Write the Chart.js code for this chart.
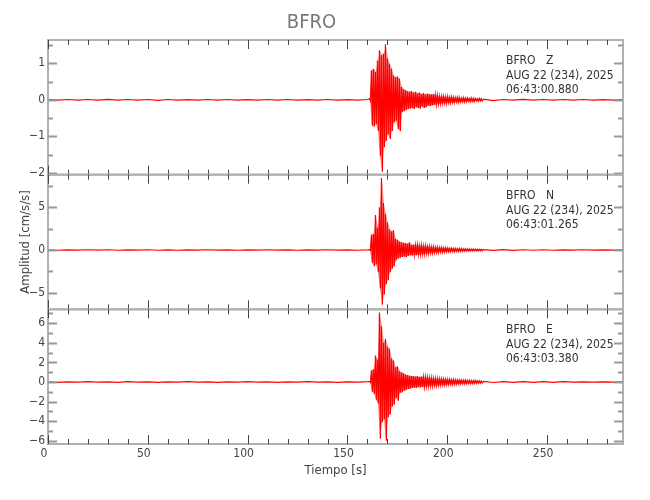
<!DOCTYPE html>
<html>
<head>
<meta charset="utf-8">
<script src="https://cdn.jsdelivr.net/npm/chart.js@4.4.1/dist/chart.umd.min.js"></script>
<style>
  html, body { margin: 0; padding: 0; background: #ffffff; }
  #wrap { width: 650px; height: 500px; }
</style>
</head>
<body>
<div id="wrap"><canvas id="c" width="650" height="500"></canvas></div>
<script>
// ---------------- data ----------------
const TITLE = 'BFRO';
const X_TITLE = 'Tiempo [s]';
const Y_TITLE = 'Amplitud [cm/s/s]';

// sampling of the traces (seconds)
const PRE_START = 0, PRE_STEP = 5;      // quiet record before the event
const BURST_START = 161, BURST_STEP = 1; // strong motion (max / min per step)
const POST_START = 218, POST_STEP = 5;  // quiet record after the event

// channel Z
const zPre = [0.005,-0.01,0.01,-0.005,0.01,-0.01,0.015,-0.01,0.01,-0.005,
              0.01,-0.015,0.01,-0.01,0.005,-0.01,0.01,-0.005,0.01,-0.01,
              0.005,-0.01,0.01,-0.005,0.01,-0.01,0.005,-0.01,0.01,-0.01,
              0.005,-0.01,0.01];
const zUp  = [0.03,0.81,0.85,0.76,1.08,1.36,1.22,1.27,1.52,1.13,
              0.99,0.85,0.67,0.62,0.64,0.58,0.35,0.30,0.26,0.24,
              0.22,0.24,0.20,0.22,0.18,0.20,0.16,0.19,0.15,0.17,
              0.16,0.15,0.16,0.13,0.12,0.10,0.09,0.10,0.08,0.09,
              0.07,0.08,0.07,0.06,0.07,0.06,0.05,0.06,0.05,0.05,
              0.04,0.05,0.04,0.04,0.03,0.04,0.03];
const zLo  = [-0.03,-0.71,-0.73,-0.66,-0.85,-1.53,-1.97,-1.30,-1.12,-0.94,
              -1.07,-0.85,-0.62,-0.57,-0.80,-0.85,-0.34,-0.31,-0.28,-0.25,
              -0.24,-0.22,-0.25,-0.20,-0.22,-0.24,-0.18,-0.22,-0.20,-0.16,
              -0.17,-0.15,-0.14,-0.13,-0.12,-0.11,-0.10,-0.09,-0.10,-0.08,
              -0.09,-0.07,-0.08,-0.06,-0.07,-0.06,-0.05,-0.06,-0.05,-0.04,
              -0.05,-0.04,-0.05,-0.03,-0.04,-0.03,-0.03];
const zPost = [0.02,-0.02,0.01,-0.01,0.015,-0.01,0.01,-0.01,0.01,-0.005,0.01,-0.01,0.005,-0.01,0.005];

// channel N
const nPre = [0.02,-0.03,0.02,-0.02,0.03,-0.02,0.03,-0.03,0.02,-0.02,
              0.03,-0.03,0.02,-0.03,0.02,-0.02,0.03,-0.02,0.02,-0.03,
              0.02,-0.02,0.03,-0.02,0.02,-0.03,0.02,-0.02,0.03,-0.02,
              0.02,-0.03,0.02];
const nUp  = [0.05,1.8,1.9,4.1,2.6,5.0,8.4,5.5,4.2,3.2,
              2.4,2.2,2.3,1.3,1.2,1.0,0.9,0.85,0.8,0.75,
              0.9,0.6,0.65,0.55,0.6,0.5,0.55,0.45,0.5,0.4,
              0.42,0.35,0.38,0.3,0.32,0.28,0.3,0.25,0.26,0.22,
              0.2,0.22,0.18,0.19,0.16,0.17,0.15,0.14,0.15,0.12,
              0.13,0.11,0.12,0.1,0.1,0.09,0.08];
const nLo  = [-0.05,-1.5,-1.9,-1.7,-2.6,-4.5,-6.4,-5.2,-4.0,-3.5,
              -2.6,-2.2,-1.9,-1.2,-1.0,-0.9,-0.8,-0.75,-0.8,-0.7,
              -0.6,-0.65,-0.55,-0.6,-0.5,-0.55,-0.48,-0.5,-0.42,-0.4,
              -0.36,-0.38,-0.32,-0.3,-0.3,-0.26,-0.27,-0.24,-0.22,-0.2,
              -0.21,-0.18,-0.19,-0.16,-0.17,-0.15,-0.14,-0.13,-0.13,-0.12,
              -0.11,-0.11,-0.1,-0.1,-0.09,-0.08,-0.08];
const nPost = [0.05,-0.05,0.04,-0.04,0.03,-0.03,0.03,-0.03,0.02,-0.02,0.03,-0.02,0.02,-0.02,0.02];

// channel E
const ePre = [0.02,-0.03,0.02,-0.02,0.03,-0.02,0.02,-0.03,0.03,-0.02,
              0.02,-0.03,0.02,-0.02,0.03,-0.02,0.02,-0.03,0.02,-0.02,
              0.03,-0.02,0.02,-0.03,0.02,-0.02,0.03,-0.02,0.02,-0.03,
              0.02,-0.02,0.03];
const eUp  = [0.05,1.2,1.3,2.7,2.3,7.1,5.7,4.0,4.4,3.6,
              3.4,2.4,2.2,1.5,1.6,1.1,1.0,0.9,0.75,0.7,
              0.65,0.6,0.62,0.55,0.6,0.52,0.55,0.5,0.48,0.45,
              0.42,0.4,0.38,0.36,0.35,0.32,0.33,0.3,0.28,0.26,
              0.27,0.24,0.25,0.22,0.2,0.21,0.19,0.18,0.2,0.16,
              0.17,0.15,0.14,0.15,0.12,0.12,0.1];
const eLo  = [-0.05,-1.0,-1.2,-1.8,-2.2,-5.8,-4.1,-3.8,-6.0,-3.6,
              -3.3,-2.5,-2.3,-1.6,-1.9,-1.1,-1.05,-0.9,-0.8,-0.7,
              -0.68,-0.6,-0.58,-0.6,-0.52,-0.55,-0.5,-0.52,-0.45,-0.44,
              -0.4,-0.42,-0.36,-0.37,-0.33,-0.32,-0.3,-0.3,-0.27,-0.26,
              -0.24,-0.25,-0.22,-0.22,-0.2,-0.2,-0.18,-0.19,-0.17,-0.16,
              -0.15,-0.16,-0.14,-0.13,-0.12,-0.12,-0.1];
const ePost = [0.06,-0.05,0.04,-0.04,0.04,-0.03,0.03,-0.03,0.03,-0.02,0.02,-0.02,0.02,-0.02,0.02];

// axes
const X_MIN = 0, X_MAX = 288;
const xTicks = [0,10,20,30,40,50,60,70,80,90,100,110,120,130,140,150,160,170,180,190,200,210,220,230,240,250,260,270,280];
const xLabelTicks = [0,50,100,150,200,250];

const zRange = [-2.05, 1.64];
const zTicks = [-2,-1.5,-1,-0.5,0,0.5,1,1.5];
const zLabelTicks = [-2,-1,0,1];

const nRange = [-6.93, 8.8];
const nTicks = [-5,-2.5,0,2.5,5,7.5];
const nLabelTicks = [-5,0,5];

const eRange = [-6.33, 7.42];
const eTicks = [-6,-5,-4,-3,-2,-1,0,1,2,3,4,5,6,7];
const eLabelTicks = [-6,-4,-2,0,2,4,6];

// header text of each channel
const stationLines = ['BFRO   Z', 'BFRO   N', 'BFRO   E'];
const dateLines = ['AUG 22 (234), 2025', 'AUG 22 (234), 2025', 'AUG 22 (234), 2025'];
const timeLines = ['06:43:00.880', '06:43:01.265', '06:43:03.380'];

// ---------------- chart ----------------
const FONT = "'DejaVu Sans Condensed', 'Liberation Sans Narrow', sans-serif";

function buildTrace(pre, up, lo, post) {
  const pts = [];
  pre.forEach((v, i) => pts.push({ x: PRE_START + i * PRE_STEP, y: v }));
  up.forEach((v, i) => {
    pts.push({ x: BURST_START + i * BURST_STEP, y: v });
    pts.push({ x: BURST_START + i * BURST_STEP + BURST_STEP / 2, y: lo[i] });
  });
  post.forEach((v, i) => pts.push({ x: POST_START + i * POST_STEP, y: v }));
  return pts;
}
function buildEnvelope(vals) {
  return vals.map((v, i) => ({ x: BURST_START + i * BURST_STEP + BURST_STEP / 4, y: v }));
}

function fmt(v) { return v < 0 ? '\u2212' + Math.abs(v) : String(v); }

function yScale(range, ticks, labelTicks, title) {
  return {
    type: 'linear', position: 'left', stack: 'traces', stackWeight: 1,
    min: range[0], max: range[1],
    grid: { display: false, drawTicks: false },
    border: { display: false },
    afterBuildTicks: s => { s.ticks = ticks.map(v => ({ value: v })); },
    afterFit: s => { s.width = 48; },
    ticks: {
      padding: 3, color: '#444', autoSkip: false,
      font: { family: FONT, size: 12 },
      callback: v => labelTicks.includes(v) ? fmt(v) : ''
    },
    title: title ? {
      display: true, text: title, color: '#444',
      font: { family: FONT, size: 13 },
      padding: { top: 18, bottom: 0 }
    } : { display: false }
  };
}

const panelIds = ['yZ', 'yN', 'yE'];
const panelMajor = { yZ: zLabelTicks, yN: nLabelTicks, yE: eLabelTicks };

const framePlugin = {
  id: 'frames',
  afterDatasetsDraw(chart) {
    const { ctx, chartArea: a } = chart;
    const xs = chart.scales.x;
    ctx.save();
    panelIds.forEach((id, k) => {
      const s = chart.scales[id];
      // frame
      ctx.strokeStyle = '#b0b0b0';
      ctx.lineWidth = 2;
      ctx.strokeRect(a.left, s.top, a.right - a.left, s.bottom - s.top);
      // y ticks (both sides, inward)
      ctx.strokeStyle = '#999';
      ctx.lineWidth = 2;
      s.ticks.forEach(t => {
        const y = Math.round(s.getPixelForValue(t.value)) + 0.5;
        const len = panelMajor[id].includes(t.value) ? 9 : 5;
        ctx.beginPath();
        ctx.moveTo(a.left, y); ctx.lineTo(a.left + len, y);
        ctx.moveTo(a.right, y); ctx.lineTo(a.right - len, y);
        ctx.stroke();
      });
      // x ticks (top and bottom of panel, inward)
      ctx.strokeStyle = '#444';
      ctx.lineWidth = 1;
      xs.ticks.forEach(t => {
        const x = Math.round(xs.getPixelForValue(t.value)) + 0.5;
        const len = xLabelTicks.includes(t.value) ? 9 : 5;
        ctx.beginPath();
        ctx.moveTo(x, s.top); ctx.lineTo(x, s.top + len);
        ctx.moveTo(x, s.bottom); ctx.lineTo(x, s.bottom - len);
        ctx.stroke();
      });
      // header text
      ctx.fillStyle = '#333';
      ctx.font = '12px ' + FONT;
      ctx.textAlign = 'left';
      ctx.textBaseline = 'middle';
      const tx = a.right - 117;
      ctx.fillText(stationLines[k], tx, s.top + 21);
      ctx.fillText(dateLines[k], tx, s.top + 36);
      ctx.fillText(timeLines[k], tx, s.top + 50);
    });
    ctx.restore();
  }
};

const trace = (data, axis) => ({
  data, yAxisID: axis, xAxisID: 'x',
  borderColor: '#ff0000', borderWidth: 1.2,
  pointRadius: 0, tension: 0, fill: false
});
const envUpper = (data, axis) => ({
  data, yAxisID: axis, xAxisID: 'x',
  borderWidth: 0, borderColor: 'rgba(0,0,0,0)',
  backgroundColor: 'rgba(255,0,0,0.45)',
  pointRadius: 0, tension: 0, fill: '+1'
});
const envLower = (data, axis) => ({
  data, yAxisID: axis, xAxisID: 'x',
  borderWidth: 0, borderColor: 'rgba(0,0,0,0)',
  pointRadius: 0, tension: 0, fill: false
});

new Chart(document.getElementById('c'), {
  type: 'line',
  data: {
    datasets: [
      trace(buildTrace(zPre, zUp, zLo, zPost), 'yZ'),
      trace(buildTrace(nPre, nUp, nLo, nPost), 'yN'),
      trace(buildTrace(ePre, eUp, eLo, ePost), 'yE'),
      envUpper(buildEnvelope(zUp), 'yZ'), envLower(buildEnvelope(zLo), 'yZ'),
      envUpper(buildEnvelope(nUp), 'yN'), envLower(buildEnvelope(nLo), 'yN'),
      envUpper(buildEnvelope(eUp), 'yE'), envLower(buildEnvelope(eLo), 'yE')
    ]
  },
  options: {
    responsive: false,
    animation: false,
    layout: { padding: { left: 0, right: 27, top: 0, bottom: 0 } },
    plugins: {
      legend: { display: false },
      tooltip: { enabled: false },
      title: {
        display: true, text: TITLE, color: '#777',
        font: { family: FONT, size: 20, weight: 'normal' },
        padding: { top: 11, bottom: 5 }
      }
    },
    scales: {
      x: {
        type: 'linear', position: 'bottom', min: X_MIN, max: X_MAX,
        grid: { display: false, drawTicks: false },
        border: { display: false },
        afterBuildTicks: s => { s.ticks = xTicks.map(v => ({ value: v })); },
        afterFit: s => { s.height = 56; },
        ticks: {
          padding: 3, color: '#444', autoSkip: false, maxRotation: 0,
          labelOffset: -4,
          font: { family: FONT, size: 12 },
          callback: v => xLabelTicks.includes(v) ? String(v) : ''
        },
        title: {
          display: true, text: X_TITLE, color: '#444',
          font: { family: FONT, size: 13 },
          padding: { top: 0, bottom: 22 }
        }
      },
      yE: yScale(eRange, eTicks, eLabelTicks, null),
      yN: yScale(nRange, nTicks, nLabelTicks, Y_TITLE),
      yZ: yScale(zRange, zTicks, zLabelTicks, null)
    }
  },
  plugins: [framePlugin]
});
</script>
</body>
</html>
